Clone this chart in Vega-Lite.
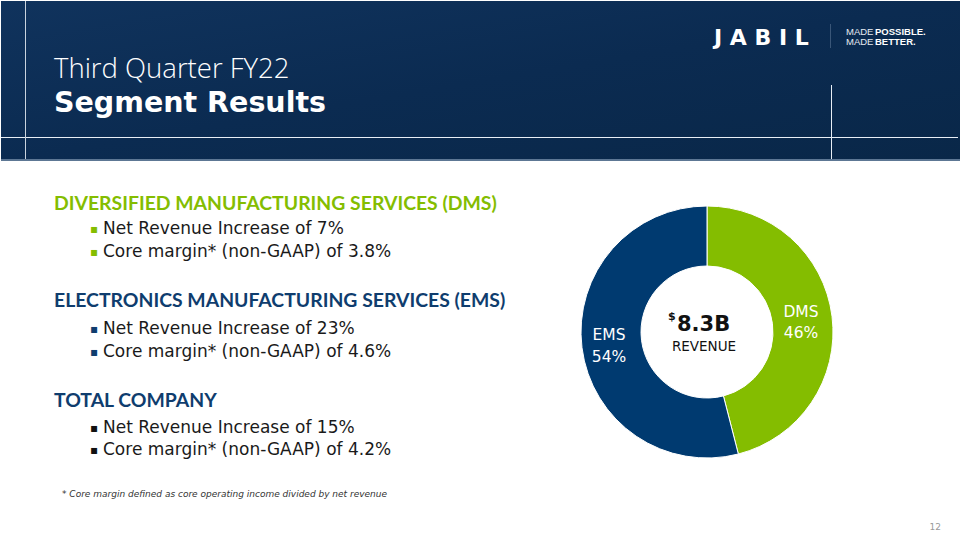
{
  "$schema": "https://vega.github.io/schema/vega-lite/v6.json",
  "width": 960,
  "height": 540,
  "autosize": {"type": "fit", "contains": "padding"},
  "padding": 0,
  "background": "#ffffff",
  "config": {"view": {"stroke": null}},
  "data": {"values": [{}]},
  "layer": [
    {"mark": {"type": "rect", "x": 0, "y": 0, "x2": 960, "y2": 160,
      "color": {"gradient": "linear", "x1": 0, "y1": 0, "x2": 1, "y2": 1,
        "stops": [{"offset": 0, "color": "#10335d"}, {"offset": 0.5, "color": "#0b2b51"}, {"offset": 1, "color": "#092748"}]}},
     "encoding": {}},
    {"mark": {"type": "rule", "color": "#5d7794", "strokeWidth": 2}, "encoding": {"x": {"value": 0}, "x2": {"value": 960}, "y": {"value": 159}}},
    {"mark": {"type": "rule", "color": "#e8eef5", "strokeWidth": 1}, "encoding": {"x": {"value": 0}, "x2": {"value": 957}, "y": {"value": 136.5}}},
    {"mark": {"type": "rule", "color": "#c9d3de", "strokeWidth": 1}, "encoding": {"x": {"value": 24.5}, "y": {"value": 0}, "y2": {"value": 158}}},
    {"mark": {"type": "rule", "color": "#e8eef5", "strokeWidth": 1}, "encoding": {"x": {"value": 830.5}, "y": {"value": 84}, "y2": {"value": 158}}},
    {"mark": {"type": "rule", "color": "#3a5678", "strokeWidth": 1}, "encoding": {"x": {"value": 829.5}, "y": {"value": 23}, "y2": {"value": 47}}},
    {"mark": {"type": "text", "text": "Third Quarter FY22", "x": 53, "y": 77, "align": "left", "baseline": "alphabetic", "font": "Open Sans", "fontWeight": 300, "fontSize": 27.5, "color": "#ffffff"}, "encoding": {}},
    {"mark": {"type": "text", "text": "Segment Results", "x": 53, "y": 111, "align": "left", "baseline": "alphabetic", "font": "DejaVu Sans", "fontWeight": "bold", "fontSize": 28.5, "color": "#ffffff"}, "encoding": {}},
    {"mark": {"type": "text", "text": "J A B I L", "x": 713, "y": 44, "align": "left", "baseline": "alphabetic", "font": "DejaVu Sans", "fontWeight": "bold", "fontSize": 22, "color": "#ffffff"}, "encoding": {}},
    {"mark": {"type": "text", "text": "MADE", "x": 845, "y": 34, "align": "left", "baseline": "alphabetic", "font": "Liberation Sans", "fontSize": 9.5, "color": "#e6ecf3"}, "encoding": {}},
    {"mark": {"type": "text", "text": "POSSIBLE.", "x": 874, "y": 34, "align": "left", "baseline": "alphabetic", "font": "Liberation Sans", "fontWeight": "bold", "fontSize": 9.5, "color": "#ffffff"}, "encoding": {}},
    {"mark": {"type": "text", "text": "MADE", "x": 845, "y": 44, "align": "left", "baseline": "alphabetic", "font": "Liberation Sans", "fontSize": 9.5, "color": "#e6ecf3"}, "encoding": {}},
    {"mark": {"type": "text", "text": "BETTER.", "x": 874, "y": 44, "align": "left", "baseline": "alphabetic", "font": "Liberation Sans", "fontWeight": "bold", "fontSize": 9.5, "color": "#ffffff"}, "encoding": {}},

    {"mark": {"type": "text", "text": "DIVERSIFIED MANUFACTURING SERVICES (DMS)", "x": 53, "y": 209, "align": "left", "baseline": "alphabetic", "font": "Lato", "fontWeight": "bold", "fontSize": 19.4, "color": "#84bd00"}, "encoding": {}},
    {"mark": {"type": "text", "text": "▪", "x": 89, "y": 232, "align": "left", "baseline": "alphabetic", "font": "DejaVu Sans", "fontSize": 12, "color": "#84bd00"}, "encoding": {}},
    {"mark": {"type": "text", "text": "Net Revenue Increase of 7%", "x": 102, "y": 233, "align": "left", "baseline": "alphabetic", "font": "DejaVu Sans", "fontSize": 17, "color": "#1a1a1a"}, "encoding": {}},
    {"mark": {"type": "text", "text": "▪", "x": 89, "y": 255, "align": "left", "baseline": "alphabetic", "font": "DejaVu Sans", "fontSize": 12, "color": "#84bd00"}, "encoding": {}},
    {"mark": {"type": "text", "text": "Core margin* (non-GAAP) of 3.8%", "x": 102, "y": 256, "align": "left", "baseline": "alphabetic", "font": "DejaVu Sans", "fontSize": 17, "color": "#1a1a1a"}, "encoding": {}},

    {"mark": {"type": "text", "text": "ELECTRONICS MANUFACTURING SERVICES (EMS)", "x": 53, "y": 306, "align": "left", "baseline": "alphabetic", "font": "Lato", "fontWeight": "bold", "fontSize": 19.4, "color": "#0f3d6e"}, "encoding": {}},
    {"mark": {"type": "text", "text": "▪", "x": 89, "y": 332, "align": "left", "baseline": "alphabetic", "font": "DejaVu Sans", "fontSize": 12, "color": "#0f3d6e"}, "encoding": {}},
    {"mark": {"type": "text", "text": "Net Revenue Increase of 23%", "x": 102, "y": 333, "align": "left", "baseline": "alphabetic", "font": "DejaVu Sans", "fontSize": 17, "color": "#1a1a1a"}, "encoding": {}},
    {"mark": {"type": "text", "text": "▪", "x": 89, "y": 355, "align": "left", "baseline": "alphabetic", "font": "DejaVu Sans", "fontSize": 12, "color": "#0f3d6e"}, "encoding": {}},
    {"mark": {"type": "text", "text": "Core margin* (non-GAAP) of 4.6%", "x": 102, "y": 356, "align": "left", "baseline": "alphabetic", "font": "DejaVu Sans", "fontSize": 17, "color": "#1a1a1a"}, "encoding": {}},

    {"mark": {"type": "text", "text": "TOTAL COMPANY", "x": 53, "y": 406, "align": "left", "baseline": "alphabetic", "font": "Lato", "fontWeight": "bold", "fontSize": 19.4, "color": "#0f3d6e"}, "encoding": {}},
    {"mark": {"type": "text", "text": "▪", "x": 89, "y": 431, "align": "left", "baseline": "alphabetic", "font": "DejaVu Sans", "fontSize": 12, "color": "#111111"}, "encoding": {}},
    {"mark": {"type": "text", "text": "Net Revenue Increase of 15%", "x": 102, "y": 432, "align": "left", "baseline": "alphabetic", "font": "DejaVu Sans", "fontSize": 17, "color": "#1a1a1a"}, "encoding": {}},
    {"mark": {"type": "text", "text": "▪", "x": 89, "y": 453, "align": "left", "baseline": "alphabetic", "font": "DejaVu Sans", "fontSize": 12, "color": "#111111"}, "encoding": {}},
    {"mark": {"type": "text", "text": "Core margin* (non-GAAP) of 4.2%", "x": 102, "y": 454, "align": "left", "baseline": "alphabetic", "font": "DejaVu Sans", "fontSize": 17, "color": "#1a1a1a"}, "encoding": {}},

    {"mark": {"type": "text", "text": "* Core margin defined as core operating income divided by net revenue", "x": 61, "y": 496, "align": "left", "baseline": "alphabetic", "font": "DejaVu Sans", "fontStyle": "italic", "fontSize": 9, "color": "#333333"}, "encoding": {}},
    {"mark": {"type": "text", "text": "12", "x": 940, "y": 529, "align": "right", "baseline": "alphabetic", "font": "DejaVu Sans", "fontSize": 9, "color": "#9a9a9a"}, "encoding": {}},

    {
      "data": {"values": [
        {"segment": "DMS", "share": 46},
        {"segment": "EMS", "share": 54}
      ]},
      "mark": {"type": "arc", "x": 706, "y": 331, "radius": 126, "radius2": 66, "stroke": "#ffffff", "strokeWidth": 1},
      "encoding": {
        "theta": {"field": "share", "type": "quantitative", "stack": true},
        "color": {"field": "segment", "type": "nominal", "scale": {"domain": ["DMS", "EMS"], "range": ["#84bd00", "#003a70"]}, "legend": null},
        "order": {"field": "segment", "sort": "ascending"}
      }
    },
    {"mark": {"type": "text", "text": "DMS", "x": 800, "y": 316, "align": "center", "baseline": "alphabetic", "font": "DejaVu Sans", "fontSize": 15.5, "color": "#ffffff"}, "encoding": {}},
    {"mark": {"type": "text", "text": "46%", "x": 800, "y": 337, "align": "center", "baseline": "alphabetic", "font": "DejaVu Sans", "fontSize": 15.5, "color": "#ffffff"}, "encoding": {}},
    {"mark": {"type": "text", "text": "EMS", "x": 608, "y": 339, "align": "center", "baseline": "alphabetic", "font": "DejaVu Sans", "fontSize": 15.5, "color": "#ffffff"}, "encoding": {}},
    {"mark": {"type": "text", "text": "54%", "x": 608, "y": 361, "align": "center", "baseline": "alphabetic", "font": "DejaVu Sans", "fontSize": 15.5, "color": "#ffffff"}, "encoding": {}},
    {"mark": {"type": "text", "text": "$", "x": 667, "y": 319, "align": "left", "baseline": "alphabetic", "font": "DejaVu Sans", "fontWeight": "bold", "fontSize": 11, "color": "#111111"}, "encoding": {}},
    {"mark": {"type": "text", "text": "8.3B", "x": 676, "y": 330, "align": "left", "baseline": "alphabetic", "font": "DejaVu Sans", "fontWeight": "bold", "fontSize": 21, "color": "#111111"}, "encoding": {}},
    {"mark": {"type": "text", "text": "REVENUE", "x": 703, "y": 350, "align": "center", "baseline": "alphabetic", "font": "DejaVu Sans", "fontSize": 13.5, "color": "#111111"}, "encoding": {}}
  ]
}
